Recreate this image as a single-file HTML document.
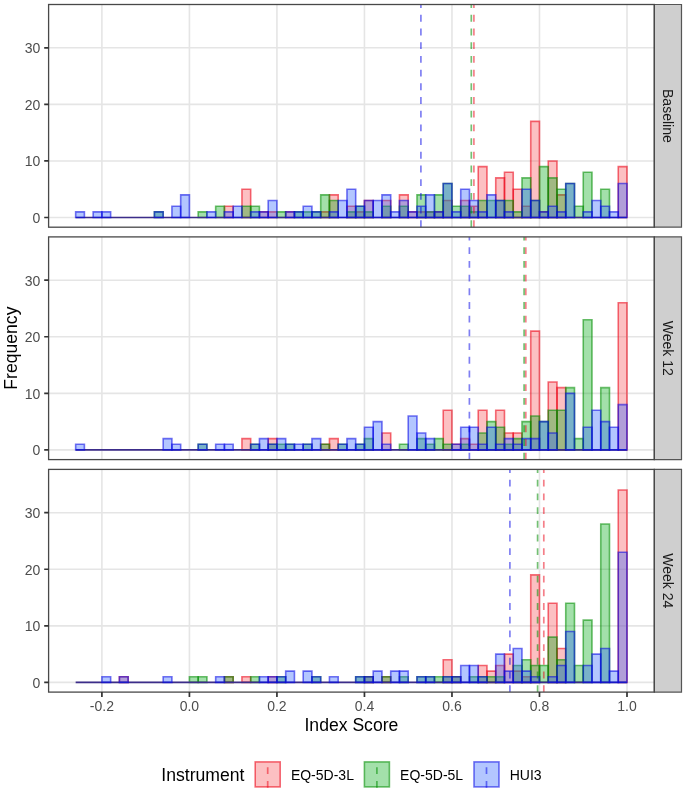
<!DOCTYPE html>
<html><head><meta charset="utf-8"><style>
html,body{margin:0;padding:0;background:#fff;}
body{width:685px;height:792px;position:relative;overflow:hidden;font-family:"Liberation Sans",sans-serif;}
svg text{font-family:"Liberation Sans",sans-serif;}
svg{will-change:transform;}
</style></head><body>
<svg width="685" height="792" viewBox="0 0 685 792" style="position:absolute;left:0;top:0"><rect x="0" y="0" width="685" height="792" fill="#fff"/><path d="M101.90 4.50V227.20M189.42 4.50V227.20M276.93 4.50V227.20M364.45 4.50V227.20M451.97 4.50V227.20M539.48 4.50V227.20M627.00 4.50V227.20M48.60 217.50H654.30M48.60 160.93H654.30M48.60 104.36H654.30M48.60 47.79H654.30" stroke="#e5e5e5" stroke-width="1.6" fill="none"/><path d="M224.42 206.19H233.18V217.50H224.42ZM241.93 189.22H250.68V217.50H241.93ZM259.43 211.84H268.18V217.50H259.43ZM268.18 211.84H276.93V217.50H268.18ZM285.69 211.84H294.44V217.50H285.69ZM320.69 211.84H329.44V217.50H320.69ZM329.44 194.87H338.20V217.50H329.44ZM346.95 206.19H355.70V217.50H346.95ZM355.70 211.84H364.45V217.50H355.70ZM364.45 200.53H373.20V217.50H364.45ZM381.95 200.53H390.71V217.50H381.95ZM399.46 194.87H408.21V217.50H399.46ZM408.21 211.84H416.96V217.50H408.21ZM416.96 211.84H425.71V217.50H416.96ZM425.71 211.84H434.46V217.50H425.71ZM434.46 211.84H443.22V217.50H434.46ZM443.22 200.53H451.97V217.50H443.22ZM460.72 200.53H469.47V217.50H460.72ZM469.47 206.19H478.22V217.50H469.47ZM478.22 166.59H486.97V217.50H478.22ZM495.73 177.90H504.48V217.50H495.73ZM504.48 172.24H513.23V217.50H504.48ZM513.23 189.22H521.98V217.50H513.23ZM521.98 206.19H530.73V217.50H521.98ZM530.73 121.33H539.48V217.50H530.73ZM539.48 211.84H548.24V217.50H539.48ZM548.24 160.93H556.99V217.50H548.24ZM556.99 194.87H565.74V217.50H556.99ZM618.25 166.59H627.00V217.50H618.25Z" fill="rgba(248,80,85,0.36)" stroke="none"/><path d="M224.42 206.19H233.18V217.50H224.42Z" fill="none" stroke="rgba(235,0,20,0.57)" stroke-width="1.6"/><path d="M241.93 189.22H250.68V217.50H241.93Z" fill="none" stroke="rgba(235,0,20,0.57)" stroke-width="1.6"/><path d="M259.43 211.84H268.18V217.50H259.43Z" fill="none" stroke="rgba(235,0,20,0.57)" stroke-width="1.6"/><path d="M268.18 211.84H276.93V217.50H268.18Z" fill="none" stroke="rgba(235,0,20,0.57)" stroke-width="1.6"/><path d="M285.69 211.84H294.44V217.50H285.69Z" fill="none" stroke="rgba(235,0,20,0.57)" stroke-width="1.6"/><path d="M320.69 211.84H329.44V217.50H320.69Z" fill="none" stroke="rgba(235,0,20,0.57)" stroke-width="1.6"/><path d="M329.44 194.87H338.20V217.50H329.44Z" fill="none" stroke="rgba(235,0,20,0.57)" stroke-width="1.6"/><path d="M346.95 206.19H355.70V217.50H346.95Z" fill="none" stroke="rgba(235,0,20,0.57)" stroke-width="1.6"/><path d="M355.70 211.84H364.45V217.50H355.70Z" fill="none" stroke="rgba(235,0,20,0.57)" stroke-width="1.6"/><path d="M364.45 200.53H373.20V217.50H364.45Z" fill="none" stroke="rgba(235,0,20,0.57)" stroke-width="1.6"/><path d="M381.95 200.53H390.71V217.50H381.95Z" fill="none" stroke="rgba(235,0,20,0.57)" stroke-width="1.6"/><path d="M399.46 194.87H408.21V217.50H399.46Z" fill="none" stroke="rgba(235,0,20,0.57)" stroke-width="1.6"/><path d="M408.21 211.84H416.96V217.50H408.21Z" fill="none" stroke="rgba(235,0,20,0.57)" stroke-width="1.6"/><path d="M416.96 211.84H425.71V217.50H416.96Z" fill="none" stroke="rgba(235,0,20,0.57)" stroke-width="1.6"/><path d="M425.71 211.84H434.46V217.50H425.71Z" fill="none" stroke="rgba(235,0,20,0.57)" stroke-width="1.6"/><path d="M434.46 211.84H443.22V217.50H434.46Z" fill="none" stroke="rgba(235,0,20,0.57)" stroke-width="1.6"/><path d="M443.22 200.53H451.97V217.50H443.22Z" fill="none" stroke="rgba(235,0,20,0.57)" stroke-width="1.6"/><path d="M460.72 200.53H469.47V217.50H460.72Z" fill="none" stroke="rgba(235,0,20,0.57)" stroke-width="1.6"/><path d="M469.47 206.19H478.22V217.50H469.47Z" fill="none" stroke="rgba(235,0,20,0.57)" stroke-width="1.6"/><path d="M478.22 166.59H486.97V217.50H478.22Z" fill="none" stroke="rgba(235,0,20,0.57)" stroke-width="1.6"/><path d="M495.73 177.90H504.48V217.50H495.73Z" fill="none" stroke="rgba(235,0,20,0.57)" stroke-width="1.6"/><path d="M504.48 172.24H513.23V217.50H504.48Z" fill="none" stroke="rgba(235,0,20,0.57)" stroke-width="1.6"/><path d="M513.23 189.22H521.98V217.50H513.23Z" fill="none" stroke="rgba(235,0,20,0.57)" stroke-width="1.6"/><path d="M521.98 206.19H530.73V217.50H521.98Z" fill="none" stroke="rgba(235,0,20,0.57)" stroke-width="1.6"/><path d="M530.73 121.33H539.48V217.50H530.73Z" fill="none" stroke="rgba(235,0,20,0.57)" stroke-width="1.6"/><path d="M539.48 211.84H548.24V217.50H539.48Z" fill="none" stroke="rgba(235,0,20,0.57)" stroke-width="1.6"/><path d="M548.24 160.93H556.99V217.50H548.24Z" fill="none" stroke="rgba(235,0,20,0.57)" stroke-width="1.6"/><path d="M556.99 194.87H565.74V217.50H556.99Z" fill="none" stroke="rgba(235,0,20,0.57)" stroke-width="1.6"/><path d="M618.25 166.59H627.00V217.50H618.25Z" fill="none" stroke="rgba(235,0,20,0.57)" stroke-width="1.6"/><path d="M154.41 211.84H163.16V217.50H154.41ZM198.17 211.84H206.92V217.50H198.17ZM215.67 206.19H224.42V217.50H215.67ZM241.93 206.19H250.68V217.50H241.93ZM250.68 206.19H259.43V217.50H250.68ZM276.93 211.84H285.69V217.50H276.93ZM294.44 211.84H303.19V217.50H294.44ZM303.19 211.84H311.94V217.50H303.19ZM311.94 211.84H320.69V217.50H311.94ZM320.69 194.87H329.44V217.50H320.69ZM329.44 200.53H338.20V217.50H329.44ZM346.95 211.84H355.70V217.50H346.95ZM355.70 206.19H364.45V217.50H355.70ZM364.45 211.84H373.20V217.50H364.45ZM381.95 206.19H390.71V217.50H381.95ZM399.46 206.19H408.21V217.50H399.46ZM416.96 194.87H425.71V217.50H416.96ZM425.71 211.84H434.46V217.50H425.71ZM434.46 194.87H443.22V217.50H434.46ZM443.22 183.56H451.97V217.50H443.22ZM451.97 206.19H460.72V217.50H451.97ZM460.72 206.19H469.47V217.50H460.72ZM469.47 211.84H478.22V217.50H469.47ZM478.22 200.53H486.97V217.50H478.22ZM486.97 200.53H495.73V217.50H486.97ZM495.73 200.53H504.48V217.50H495.73ZM504.48 200.53H513.23V217.50H504.48ZM513.23 211.84H521.98V217.50H513.23ZM521.98 177.90H530.73V217.50H521.98ZM530.73 200.53H539.48V217.50H530.73ZM539.48 166.59H548.24V217.50H539.48ZM548.24 177.90H556.99V217.50H548.24ZM556.99 189.22H565.74V217.50H556.99ZM565.74 183.56H574.49V217.50H565.74ZM574.49 206.19H583.24V217.50H574.49ZM583.24 172.24H591.99V217.50H583.24ZM600.75 189.22H609.50V217.50H600.75Z" fill="rgba(0,170,20,0.36)" stroke="none"/><path d="M154.41 211.84H163.16V217.50H154.41Z" fill="none" stroke="rgba(0,140,0,0.57)" stroke-width="1.6"/><path d="M198.17 211.84H206.92V217.50H198.17Z" fill="none" stroke="rgba(0,140,0,0.57)" stroke-width="1.6"/><path d="M215.67 206.19H224.42V217.50H215.67Z" fill="none" stroke="rgba(0,140,0,0.57)" stroke-width="1.6"/><path d="M241.93 206.19H250.68V217.50H241.93Z" fill="none" stroke="rgba(0,140,0,0.57)" stroke-width="1.6"/><path d="M250.68 206.19H259.43V217.50H250.68Z" fill="none" stroke="rgba(0,140,0,0.57)" stroke-width="1.6"/><path d="M276.93 211.84H285.69V217.50H276.93Z" fill="none" stroke="rgba(0,140,0,0.57)" stroke-width="1.6"/><path d="M294.44 211.84H303.19V217.50H294.44Z" fill="none" stroke="rgba(0,140,0,0.57)" stroke-width="1.6"/><path d="M303.19 211.84H311.94V217.50H303.19Z" fill="none" stroke="rgba(0,140,0,0.57)" stroke-width="1.6"/><path d="M311.94 211.84H320.69V217.50H311.94Z" fill="none" stroke="rgba(0,140,0,0.57)" stroke-width="1.6"/><path d="M320.69 194.87H329.44V217.50H320.69Z" fill="none" stroke="rgba(0,140,0,0.57)" stroke-width="1.6"/><path d="M329.44 200.53H338.20V217.50H329.44Z" fill="none" stroke="rgba(0,140,0,0.57)" stroke-width="1.6"/><path d="M346.95 211.84H355.70V217.50H346.95Z" fill="none" stroke="rgba(0,140,0,0.57)" stroke-width="1.6"/><path d="M355.70 206.19H364.45V217.50H355.70Z" fill="none" stroke="rgba(0,140,0,0.57)" stroke-width="1.6"/><path d="M364.45 211.84H373.20V217.50H364.45Z" fill="none" stroke="rgba(0,140,0,0.57)" stroke-width="1.6"/><path d="M381.95 206.19H390.71V217.50H381.95Z" fill="none" stroke="rgba(0,140,0,0.57)" stroke-width="1.6"/><path d="M399.46 206.19H408.21V217.50H399.46Z" fill="none" stroke="rgba(0,140,0,0.57)" stroke-width="1.6"/><path d="M416.96 194.87H425.71V217.50H416.96Z" fill="none" stroke="rgba(0,140,0,0.57)" stroke-width="1.6"/><path d="M425.71 211.84H434.46V217.50H425.71Z" fill="none" stroke="rgba(0,140,0,0.57)" stroke-width="1.6"/><path d="M434.46 194.87H443.22V217.50H434.46Z" fill="none" stroke="rgba(0,140,0,0.57)" stroke-width="1.6"/><path d="M443.22 183.56H451.97V217.50H443.22Z" fill="none" stroke="rgba(0,140,0,0.57)" stroke-width="1.6"/><path d="M451.97 206.19H460.72V217.50H451.97Z" fill="none" stroke="rgba(0,140,0,0.57)" stroke-width="1.6"/><path d="M460.72 206.19H469.47V217.50H460.72Z" fill="none" stroke="rgba(0,140,0,0.57)" stroke-width="1.6"/><path d="M469.47 211.84H478.22V217.50H469.47Z" fill="none" stroke="rgba(0,140,0,0.57)" stroke-width="1.6"/><path d="M478.22 200.53H486.97V217.50H478.22Z" fill="none" stroke="rgba(0,140,0,0.57)" stroke-width="1.6"/><path d="M486.97 200.53H495.73V217.50H486.97Z" fill="none" stroke="rgba(0,140,0,0.57)" stroke-width="1.6"/><path d="M495.73 200.53H504.48V217.50H495.73Z" fill="none" stroke="rgba(0,140,0,0.57)" stroke-width="1.6"/><path d="M504.48 200.53H513.23V217.50H504.48Z" fill="none" stroke="rgba(0,140,0,0.57)" stroke-width="1.6"/><path d="M513.23 211.84H521.98V217.50H513.23Z" fill="none" stroke="rgba(0,140,0,0.57)" stroke-width="1.6"/><path d="M521.98 177.90H530.73V217.50H521.98Z" fill="none" stroke="rgba(0,140,0,0.57)" stroke-width="1.6"/><path d="M530.73 200.53H539.48V217.50H530.73Z" fill="none" stroke="rgba(0,140,0,0.57)" stroke-width="1.6"/><path d="M539.48 166.59H548.24V217.50H539.48Z" fill="none" stroke="rgba(0,140,0,0.57)" stroke-width="1.6"/><path d="M548.24 177.90H556.99V217.50H548.24Z" fill="none" stroke="rgba(0,140,0,0.57)" stroke-width="1.6"/><path d="M556.99 189.22H565.74V217.50H556.99Z" fill="none" stroke="rgba(0,140,0,0.57)" stroke-width="1.6"/><path d="M565.74 183.56H574.49V217.50H565.74Z" fill="none" stroke="rgba(0,140,0,0.57)" stroke-width="1.6"/><path d="M574.49 206.19H583.24V217.50H574.49Z" fill="none" stroke="rgba(0,140,0,0.57)" stroke-width="1.6"/><path d="M583.24 172.24H591.99V217.50H583.24Z" fill="none" stroke="rgba(0,140,0,0.57)" stroke-width="1.6"/><path d="M600.75 189.22H609.50V217.50H600.75Z" fill="none" stroke="rgba(0,140,0,0.57)" stroke-width="1.6"/><path d="M75.65 217.50H627.00" stroke="#3c2d8a" stroke-width="1.6"/><path d="M75.65 211.84H84.40V217.50H75.65ZM93.15 211.84H101.90V217.50H93.15ZM101.90 211.84H110.65V217.50H101.90ZM154.41 211.84H163.16V217.50H154.41ZM171.91 206.19H180.67V217.50H171.91ZM180.67 194.87H189.42V217.50H180.67ZM206.92 211.84H215.67V217.50H206.92ZM224.42 211.84H233.18V217.50H224.42ZM233.18 206.19H241.93V217.50H233.18ZM250.68 211.84H259.43V217.50H250.68ZM259.43 211.84H268.18V217.50H259.43ZM268.18 200.53H276.93V217.50H268.18ZM285.69 211.84H294.44V217.50H285.69ZM294.44 211.84H303.19V217.50H294.44ZM303.19 206.19H311.94V217.50H303.19ZM311.94 211.84H320.69V217.50H311.94ZM329.44 211.84H338.20V217.50H329.44ZM338.20 200.53H346.95V217.50H338.20ZM346.95 189.22H355.70V217.50H346.95ZM355.70 206.19H364.45V217.50H355.70ZM364.45 200.53H373.20V217.50H364.45ZM373.20 200.53H381.95V217.50H373.20ZM381.95 194.87H390.71V217.50H381.95ZM390.71 211.84H399.46V217.50H390.71ZM399.46 200.53H408.21V217.50H399.46ZM408.21 211.84H416.96V217.50H408.21ZM416.96 206.19H425.71V217.50H416.96ZM425.71 194.87H434.46V217.50H425.71ZM434.46 211.84H443.22V217.50H434.46ZM443.22 183.56H451.97V217.50H443.22ZM451.97 211.84H460.72V217.50H451.97ZM460.72 189.22H469.47V217.50H460.72ZM469.47 200.53H478.22V217.50H469.47ZM478.22 211.84H486.97V217.50H478.22ZM486.97 194.87H495.73V217.50H486.97ZM495.73 200.53H504.48V217.50H495.73ZM504.48 211.84H513.23V217.50H504.48ZM521.98 189.22H530.73V217.50H521.98ZM530.73 200.53H539.48V217.50H530.73ZM539.48 211.84H548.24V217.50H539.48ZM548.24 206.19H556.99V217.50H548.24ZM556.99 211.84H565.74V217.50H556.99ZM565.74 183.56H574.49V217.50H565.74ZM583.24 211.84H591.99V217.50H583.24ZM591.99 200.53H600.75V217.50H591.99ZM600.75 206.19H609.50V217.50H600.75ZM609.50 211.84H618.25V217.50H609.50ZM618.25 183.56H627.00V217.50H618.25Z" fill="rgba(50,100,255,0.37)" stroke="none"/><path d="M75.65 211.84H84.40V217.50H75.65Z" fill="none" stroke="rgba(0,0,230,0.54)" stroke-width="1.6"/><path d="M93.15 211.84H101.90V217.50H93.15Z" fill="none" stroke="rgba(0,0,230,0.54)" stroke-width="1.6"/><path d="M101.90 211.84H110.65V217.50H101.90Z" fill="none" stroke="rgba(0,0,230,0.54)" stroke-width="1.6"/><path d="M154.41 211.84H163.16V217.50H154.41Z" fill="none" stroke="rgba(0,0,230,0.54)" stroke-width="1.6"/><path d="M171.91 206.19H180.67V217.50H171.91Z" fill="none" stroke="rgba(0,0,230,0.54)" stroke-width="1.6"/><path d="M180.67 194.87H189.42V217.50H180.67Z" fill="none" stroke="rgba(0,0,230,0.54)" stroke-width="1.6"/><path d="M206.92 211.84H215.67V217.50H206.92Z" fill="none" stroke="rgba(0,0,230,0.54)" stroke-width="1.6"/><path d="M224.42 211.84H233.18V217.50H224.42Z" fill="none" stroke="rgba(0,0,230,0.54)" stroke-width="1.6"/><path d="M233.18 206.19H241.93V217.50H233.18Z" fill="none" stroke="rgba(0,0,230,0.54)" stroke-width="1.6"/><path d="M250.68 211.84H259.43V217.50H250.68Z" fill="none" stroke="rgba(0,0,230,0.54)" stroke-width="1.6"/><path d="M259.43 211.84H268.18V217.50H259.43Z" fill="none" stroke="rgba(0,0,230,0.54)" stroke-width="1.6"/><path d="M268.18 200.53H276.93V217.50H268.18Z" fill="none" stroke="rgba(0,0,230,0.54)" stroke-width="1.6"/><path d="M285.69 211.84H294.44V217.50H285.69Z" fill="none" stroke="rgba(0,0,230,0.54)" stroke-width="1.6"/><path d="M294.44 211.84H303.19V217.50H294.44Z" fill="none" stroke="rgba(0,0,230,0.54)" stroke-width="1.6"/><path d="M303.19 206.19H311.94V217.50H303.19Z" fill="none" stroke="rgba(0,0,230,0.54)" stroke-width="1.6"/><path d="M311.94 211.84H320.69V217.50H311.94Z" fill="none" stroke="rgba(0,0,230,0.54)" stroke-width="1.6"/><path d="M329.44 211.84H338.20V217.50H329.44Z" fill="none" stroke="rgba(0,0,230,0.54)" stroke-width="1.6"/><path d="M338.20 200.53H346.95V217.50H338.20Z" fill="none" stroke="rgba(0,0,230,0.54)" stroke-width="1.6"/><path d="M346.95 189.22H355.70V217.50H346.95Z" fill="none" stroke="rgba(0,0,230,0.54)" stroke-width="1.6"/><path d="M355.70 206.19H364.45V217.50H355.70Z" fill="none" stroke="rgba(0,0,230,0.54)" stroke-width="1.6"/><path d="M364.45 200.53H373.20V217.50H364.45Z" fill="none" stroke="rgba(0,0,230,0.54)" stroke-width="1.6"/><path d="M373.20 200.53H381.95V217.50H373.20Z" fill="none" stroke="rgba(0,0,230,0.54)" stroke-width="1.6"/><path d="M381.95 194.87H390.71V217.50H381.95Z" fill="none" stroke="rgba(0,0,230,0.54)" stroke-width="1.6"/><path d="M390.71 211.84H399.46V217.50H390.71Z" fill="none" stroke="rgba(0,0,230,0.54)" stroke-width="1.6"/><path d="M399.46 200.53H408.21V217.50H399.46Z" fill="none" stroke="rgba(0,0,230,0.54)" stroke-width="1.6"/><path d="M408.21 211.84H416.96V217.50H408.21Z" fill="none" stroke="rgba(0,0,230,0.54)" stroke-width="1.6"/><path d="M416.96 206.19H425.71V217.50H416.96Z" fill="none" stroke="rgba(0,0,230,0.54)" stroke-width="1.6"/><path d="M425.71 194.87H434.46V217.50H425.71Z" fill="none" stroke="rgba(0,0,230,0.54)" stroke-width="1.6"/><path d="M434.46 211.84H443.22V217.50H434.46Z" fill="none" stroke="rgba(0,0,230,0.54)" stroke-width="1.6"/><path d="M443.22 183.56H451.97V217.50H443.22Z" fill="none" stroke="rgba(0,0,230,0.54)" stroke-width="1.6"/><path d="M451.97 211.84H460.72V217.50H451.97Z" fill="none" stroke="rgba(0,0,230,0.54)" stroke-width="1.6"/><path d="M460.72 189.22H469.47V217.50H460.72Z" fill="none" stroke="rgba(0,0,230,0.54)" stroke-width="1.6"/><path d="M469.47 200.53H478.22V217.50H469.47Z" fill="none" stroke="rgba(0,0,230,0.54)" stroke-width="1.6"/><path d="M478.22 211.84H486.97V217.50H478.22Z" fill="none" stroke="rgba(0,0,230,0.54)" stroke-width="1.6"/><path d="M486.97 194.87H495.73V217.50H486.97Z" fill="none" stroke="rgba(0,0,230,0.54)" stroke-width="1.6"/><path d="M495.73 200.53H504.48V217.50H495.73Z" fill="none" stroke="rgba(0,0,230,0.54)" stroke-width="1.6"/><path d="M504.48 211.84H513.23V217.50H504.48Z" fill="none" stroke="rgba(0,0,230,0.54)" stroke-width="1.6"/><path d="M521.98 189.22H530.73V217.50H521.98Z" fill="none" stroke="rgba(0,0,230,0.54)" stroke-width="1.6"/><path d="M530.73 200.53H539.48V217.50H530.73Z" fill="none" stroke="rgba(0,0,230,0.54)" stroke-width="1.6"/><path d="M539.48 211.84H548.24V217.50H539.48Z" fill="none" stroke="rgba(0,0,230,0.54)" stroke-width="1.6"/><path d="M548.24 206.19H556.99V217.50H548.24Z" fill="none" stroke="rgba(0,0,230,0.54)" stroke-width="1.6"/><path d="M556.99 211.84H565.74V217.50H556.99Z" fill="none" stroke="rgba(0,0,230,0.54)" stroke-width="1.6"/><path d="M565.74 183.56H574.49V217.50H565.74Z" fill="none" stroke="rgba(0,0,230,0.54)" stroke-width="1.6"/><path d="M583.24 211.84H591.99V217.50H583.24Z" fill="none" stroke="rgba(0,0,230,0.54)" stroke-width="1.6"/><path d="M591.99 200.53H600.75V217.50H591.99Z" fill="none" stroke="rgba(0,0,230,0.54)" stroke-width="1.6"/><path d="M600.75 206.19H609.50V217.50H600.75Z" fill="none" stroke="rgba(0,0,230,0.54)" stroke-width="1.6"/><path d="M609.50 211.84H618.25V217.50H609.50Z" fill="none" stroke="rgba(0,0,230,0.54)" stroke-width="1.6"/><path d="M618.25 183.56H627.00V217.50H618.25Z" fill="none" stroke="rgba(0,0,230,0.54)" stroke-width="1.6"/><line x1="473.90" y1="227.20" x2="473.90" y2="4.50" stroke="rgba(235,0,20,0.5)" stroke-width="1.7" stroke-dasharray="6.85 6.85"/><line x1="471.30" y1="227.20" x2="471.30" y2="4.50" stroke="rgba(0,140,0,0.55)" stroke-width="1.7" stroke-dasharray="6.85 6.85"/><line x1="420.90" y1="227.20" x2="420.90" y2="4.50" stroke="rgba(0,0,230,0.5)" stroke-width="1.7" stroke-dasharray="6.85 6.85"/><rect x="654.3" y="4.5" width="27.20" height="222.7" fill="#cfcfcf" stroke="none"/><path d="M654.3 4.5H681.5V227.2H654.3Z" fill="none" stroke="#555" stroke-width="1.2"/><rect x="48.6" y="4.5" width="605.70" height="222.7" fill="none" stroke="#484848" stroke-width="1.3"/><text x="0" y="0" transform="translate(662.6 115.85) rotate(90)" text-anchor="middle" font-size="14" fill="#1a1a1a">Baseline</text><text x="40.3" y="223.00" text-anchor="end" font-size="14" fill="#4d4d4d">0</text><text x="40.3" y="166.43" text-anchor="end" font-size="14" fill="#4d4d4d">10</text><text x="40.3" y="109.86" text-anchor="end" font-size="14" fill="#4d4d4d">20</text><text x="40.3" y="53.29" text-anchor="end" font-size="14" fill="#4d4d4d">30</text><path d="M44.2 217.50H48.6M44.2 160.93H48.6M44.2 104.36H48.6M44.2 47.79H48.6" stroke="#333" stroke-width="1.7"/><path d="M101.90 236.90V459.60M189.42 236.90V459.60M276.93 236.90V459.60M364.45 236.90V459.60M451.97 236.90V459.60M539.48 236.90V459.60M627.00 236.90V459.60M48.60 449.90H654.30M48.60 393.33H654.30M48.60 336.76H654.30M48.60 280.19H654.30" stroke="#e5e5e5" stroke-width="1.6" fill="none"/><path d="M241.93 438.59H250.68V449.90H241.93ZM268.18 438.59H276.93V449.90H268.18ZM320.69 444.24H329.44V449.90H320.69ZM329.44 438.59H338.20V449.90H329.44ZM381.95 432.93H390.71V449.90H381.95ZM443.22 410.30H451.97V449.90H443.22ZM451.97 444.24H460.72V449.90H451.97ZM460.72 438.59H469.47V449.90H460.72ZM469.47 444.24H478.22V449.90H469.47ZM478.22 410.30H486.97V449.90H478.22ZM495.73 410.30H504.48V449.90H495.73ZM504.48 432.93H513.23V449.90H504.48ZM513.23 432.93H521.98V449.90H513.23ZM530.73 331.10H539.48V449.90H530.73ZM548.24 382.02H556.99V449.90H548.24ZM556.99 387.67H565.74V449.90H556.99ZM618.25 302.82H627.00V449.90H618.25Z" fill="rgba(248,80,85,0.36)" stroke="none"/><path d="M241.93 438.59H250.68V449.90H241.93Z" fill="none" stroke="rgba(235,0,20,0.57)" stroke-width="1.6"/><path d="M268.18 438.59H276.93V449.90H268.18Z" fill="none" stroke="rgba(235,0,20,0.57)" stroke-width="1.6"/><path d="M320.69 444.24H329.44V449.90H320.69Z" fill="none" stroke="rgba(235,0,20,0.57)" stroke-width="1.6"/><path d="M329.44 438.59H338.20V449.90H329.44Z" fill="none" stroke="rgba(235,0,20,0.57)" stroke-width="1.6"/><path d="M381.95 432.93H390.71V449.90H381.95Z" fill="none" stroke="rgba(235,0,20,0.57)" stroke-width="1.6"/><path d="M443.22 410.30H451.97V449.90H443.22Z" fill="none" stroke="rgba(235,0,20,0.57)" stroke-width="1.6"/><path d="M451.97 444.24H460.72V449.90H451.97Z" fill="none" stroke="rgba(235,0,20,0.57)" stroke-width="1.6"/><path d="M460.72 438.59H469.47V449.90H460.72Z" fill="none" stroke="rgba(235,0,20,0.57)" stroke-width="1.6"/><path d="M469.47 444.24H478.22V449.90H469.47Z" fill="none" stroke="rgba(235,0,20,0.57)" stroke-width="1.6"/><path d="M478.22 410.30H486.97V449.90H478.22Z" fill="none" stroke="rgba(235,0,20,0.57)" stroke-width="1.6"/><path d="M495.73 410.30H504.48V449.90H495.73Z" fill="none" stroke="rgba(235,0,20,0.57)" stroke-width="1.6"/><path d="M504.48 432.93H513.23V449.90H504.48Z" fill="none" stroke="rgba(235,0,20,0.57)" stroke-width="1.6"/><path d="M513.23 432.93H521.98V449.90H513.23Z" fill="none" stroke="rgba(235,0,20,0.57)" stroke-width="1.6"/><path d="M530.73 331.10H539.48V449.90H530.73Z" fill="none" stroke="rgba(235,0,20,0.57)" stroke-width="1.6"/><path d="M548.24 382.02H556.99V449.90H548.24Z" fill="none" stroke="rgba(235,0,20,0.57)" stroke-width="1.6"/><path d="M556.99 387.67H565.74V449.90H556.99Z" fill="none" stroke="rgba(235,0,20,0.57)" stroke-width="1.6"/><path d="M618.25 302.82H627.00V449.90H618.25Z" fill="none" stroke="rgba(235,0,20,0.57)" stroke-width="1.6"/><path d="M198.17 444.24H206.92V449.90H198.17ZM250.68 444.24H259.43V449.90H250.68ZM268.18 444.24H276.93V449.90H268.18ZM276.93 444.24H285.69V449.90H276.93ZM285.69 444.24H294.44V449.90H285.69ZM303.19 444.24H311.94V449.90H303.19ZM320.69 444.24H329.44V449.90H320.69ZM338.20 444.24H346.95V449.90H338.20ZM355.70 444.24H364.45V449.90H355.70ZM364.45 438.59H373.20V449.90H364.45ZM399.46 444.24H408.21V449.90H399.46ZM416.96 438.59H425.71V449.90H416.96ZM425.71 444.24H434.46V449.90H425.71ZM434.46 438.59H443.22V449.90H434.46ZM443.22 444.24H451.97V449.90H443.22ZM460.72 444.24H469.47V449.90H460.72ZM478.22 432.93H486.97V449.90H478.22ZM486.97 421.61H495.73V449.90H486.97ZM495.73 427.27H504.48V449.90H495.73ZM504.48 444.24H513.23V449.90H504.48ZM513.23 438.59H521.98V449.90H513.23ZM521.98 421.61H530.73V449.90H521.98ZM530.73 415.96H539.48V449.90H530.73ZM539.48 421.61H548.24V449.90H539.48ZM548.24 410.30H556.99V449.90H548.24ZM556.99 410.30H565.74V449.90H556.99ZM565.74 387.67H574.49V449.90H565.74ZM574.49 438.59H583.24V449.90H574.49ZM583.24 319.79H591.99V449.90H583.24ZM600.75 387.67H609.50V449.90H600.75Z" fill="rgba(0,170,20,0.36)" stroke="none"/><path d="M198.17 444.24H206.92V449.90H198.17Z" fill="none" stroke="rgba(0,140,0,0.57)" stroke-width="1.6"/><path d="M250.68 444.24H259.43V449.90H250.68Z" fill="none" stroke="rgba(0,140,0,0.57)" stroke-width="1.6"/><path d="M268.18 444.24H276.93V449.90H268.18Z" fill="none" stroke="rgba(0,140,0,0.57)" stroke-width="1.6"/><path d="M276.93 444.24H285.69V449.90H276.93Z" fill="none" stroke="rgba(0,140,0,0.57)" stroke-width="1.6"/><path d="M285.69 444.24H294.44V449.90H285.69Z" fill="none" stroke="rgba(0,140,0,0.57)" stroke-width="1.6"/><path d="M303.19 444.24H311.94V449.90H303.19Z" fill="none" stroke="rgba(0,140,0,0.57)" stroke-width="1.6"/><path d="M320.69 444.24H329.44V449.90H320.69Z" fill="none" stroke="rgba(0,140,0,0.57)" stroke-width="1.6"/><path d="M338.20 444.24H346.95V449.90H338.20Z" fill="none" stroke="rgba(0,140,0,0.57)" stroke-width="1.6"/><path d="M355.70 444.24H364.45V449.90H355.70Z" fill="none" stroke="rgba(0,140,0,0.57)" stroke-width="1.6"/><path d="M364.45 438.59H373.20V449.90H364.45Z" fill="none" stroke="rgba(0,140,0,0.57)" stroke-width="1.6"/><path d="M399.46 444.24H408.21V449.90H399.46Z" fill="none" stroke="rgba(0,140,0,0.57)" stroke-width="1.6"/><path d="M416.96 438.59H425.71V449.90H416.96Z" fill="none" stroke="rgba(0,140,0,0.57)" stroke-width="1.6"/><path d="M425.71 444.24H434.46V449.90H425.71Z" fill="none" stroke="rgba(0,140,0,0.57)" stroke-width="1.6"/><path d="M434.46 438.59H443.22V449.90H434.46Z" fill="none" stroke="rgba(0,140,0,0.57)" stroke-width="1.6"/><path d="M443.22 444.24H451.97V449.90H443.22Z" fill="none" stroke="rgba(0,140,0,0.57)" stroke-width="1.6"/><path d="M460.72 444.24H469.47V449.90H460.72Z" fill="none" stroke="rgba(0,140,0,0.57)" stroke-width="1.6"/><path d="M478.22 432.93H486.97V449.90H478.22Z" fill="none" stroke="rgba(0,140,0,0.57)" stroke-width="1.6"/><path d="M486.97 421.61H495.73V449.90H486.97Z" fill="none" stroke="rgba(0,140,0,0.57)" stroke-width="1.6"/><path d="M495.73 427.27H504.48V449.90H495.73Z" fill="none" stroke="rgba(0,140,0,0.57)" stroke-width="1.6"/><path d="M504.48 444.24H513.23V449.90H504.48Z" fill="none" stroke="rgba(0,140,0,0.57)" stroke-width="1.6"/><path d="M513.23 438.59H521.98V449.90H513.23Z" fill="none" stroke="rgba(0,140,0,0.57)" stroke-width="1.6"/><path d="M521.98 421.61H530.73V449.90H521.98Z" fill="none" stroke="rgba(0,140,0,0.57)" stroke-width="1.6"/><path d="M530.73 415.96H539.48V449.90H530.73Z" fill="none" stroke="rgba(0,140,0,0.57)" stroke-width="1.6"/><path d="M539.48 421.61H548.24V449.90H539.48Z" fill="none" stroke="rgba(0,140,0,0.57)" stroke-width="1.6"/><path d="M548.24 410.30H556.99V449.90H548.24Z" fill="none" stroke="rgba(0,140,0,0.57)" stroke-width="1.6"/><path d="M556.99 410.30H565.74V449.90H556.99Z" fill="none" stroke="rgba(0,140,0,0.57)" stroke-width="1.6"/><path d="M565.74 387.67H574.49V449.90H565.74Z" fill="none" stroke="rgba(0,140,0,0.57)" stroke-width="1.6"/><path d="M574.49 438.59H583.24V449.90H574.49Z" fill="none" stroke="rgba(0,140,0,0.57)" stroke-width="1.6"/><path d="M583.24 319.79H591.99V449.90H583.24Z" fill="none" stroke="rgba(0,140,0,0.57)" stroke-width="1.6"/><path d="M600.75 387.67H609.50V449.90H600.75Z" fill="none" stroke="rgba(0,140,0,0.57)" stroke-width="1.6"/><path d="M75.65 449.90H627.00" stroke="#3c2d8a" stroke-width="1.6"/><path d="M75.65 444.24H84.40V449.90H75.65ZM163.16 438.59H171.91V449.90H163.16ZM171.91 444.24H180.67V449.90H171.91ZM198.17 444.24H206.92V449.90H198.17ZM215.67 444.24H224.42V449.90H215.67ZM224.42 444.24H233.18V449.90H224.42ZM250.68 444.24H259.43V449.90H250.68ZM259.43 438.59H268.18V449.90H259.43ZM268.18 444.24H276.93V449.90H268.18ZM276.93 438.59H285.69V449.90H276.93ZM285.69 444.24H294.44V449.90H285.69ZM294.44 444.24H303.19V449.90H294.44ZM303.19 444.24H311.94V449.90H303.19ZM311.94 438.59H320.69V449.90H311.94ZM338.20 444.24H346.95V449.90H338.20ZM346.95 438.59H355.70V449.90H346.95ZM355.70 444.24H364.45V449.90H355.70ZM364.45 427.27H373.20V449.90H364.45ZM373.20 421.61H381.95V449.90H373.20ZM381.95 444.24H390.71V449.90H381.95ZM408.21 415.96H416.96V449.90H408.21ZM416.96 432.93H425.71V449.90H416.96ZM425.71 438.59H434.46V449.90H425.71ZM451.97 444.24H460.72V449.90H451.97ZM460.72 427.27H469.47V449.90H460.72ZM469.47 427.27H478.22V449.90H469.47ZM478.22 444.24H486.97V449.90H478.22ZM486.97 427.27H495.73V449.90H486.97ZM495.73 444.24H504.48V449.90H495.73ZM504.48 438.59H513.23V449.90H504.48ZM513.23 444.24H521.98V449.90H513.23ZM521.98 438.59H530.73V449.90H521.98ZM530.73 438.59H539.48V449.90H530.73ZM539.48 421.61H548.24V449.90H539.48ZM548.24 432.93H556.99V449.90H548.24ZM565.74 393.33H574.49V449.90H565.74ZM583.24 427.27H591.99V449.90H583.24ZM591.99 410.30H600.75V449.90H591.99ZM600.75 421.61H609.50V449.90H600.75ZM609.50 427.27H618.25V449.90H609.50ZM618.25 404.64H627.00V449.90H618.25Z" fill="rgba(50,100,255,0.37)" stroke="none"/><path d="M75.65 444.24H84.40V449.90H75.65Z" fill="none" stroke="rgba(0,0,230,0.54)" stroke-width="1.6"/><path d="M163.16 438.59H171.91V449.90H163.16Z" fill="none" stroke="rgba(0,0,230,0.54)" stroke-width="1.6"/><path d="M171.91 444.24H180.67V449.90H171.91Z" fill="none" stroke="rgba(0,0,230,0.54)" stroke-width="1.6"/><path d="M198.17 444.24H206.92V449.90H198.17Z" fill="none" stroke="rgba(0,0,230,0.54)" stroke-width="1.6"/><path d="M215.67 444.24H224.42V449.90H215.67Z" fill="none" stroke="rgba(0,0,230,0.54)" stroke-width="1.6"/><path d="M224.42 444.24H233.18V449.90H224.42Z" fill="none" stroke="rgba(0,0,230,0.54)" stroke-width="1.6"/><path d="M250.68 444.24H259.43V449.90H250.68Z" fill="none" stroke="rgba(0,0,230,0.54)" stroke-width="1.6"/><path d="M259.43 438.59H268.18V449.90H259.43Z" fill="none" stroke="rgba(0,0,230,0.54)" stroke-width="1.6"/><path d="M268.18 444.24H276.93V449.90H268.18Z" fill="none" stroke="rgba(0,0,230,0.54)" stroke-width="1.6"/><path d="M276.93 438.59H285.69V449.90H276.93Z" fill="none" stroke="rgba(0,0,230,0.54)" stroke-width="1.6"/><path d="M285.69 444.24H294.44V449.90H285.69Z" fill="none" stroke="rgba(0,0,230,0.54)" stroke-width="1.6"/><path d="M294.44 444.24H303.19V449.90H294.44Z" fill="none" stroke="rgba(0,0,230,0.54)" stroke-width="1.6"/><path d="M303.19 444.24H311.94V449.90H303.19Z" fill="none" stroke="rgba(0,0,230,0.54)" stroke-width="1.6"/><path d="M311.94 438.59H320.69V449.90H311.94Z" fill="none" stroke="rgba(0,0,230,0.54)" stroke-width="1.6"/><path d="M338.20 444.24H346.95V449.90H338.20Z" fill="none" stroke="rgba(0,0,230,0.54)" stroke-width="1.6"/><path d="M346.95 438.59H355.70V449.90H346.95Z" fill="none" stroke="rgba(0,0,230,0.54)" stroke-width="1.6"/><path d="M355.70 444.24H364.45V449.90H355.70Z" fill="none" stroke="rgba(0,0,230,0.54)" stroke-width="1.6"/><path d="M364.45 427.27H373.20V449.90H364.45Z" fill="none" stroke="rgba(0,0,230,0.54)" stroke-width="1.6"/><path d="M373.20 421.61H381.95V449.90H373.20Z" fill="none" stroke="rgba(0,0,230,0.54)" stroke-width="1.6"/><path d="M381.95 444.24H390.71V449.90H381.95Z" fill="none" stroke="rgba(0,0,230,0.54)" stroke-width="1.6"/><path d="M408.21 415.96H416.96V449.90H408.21Z" fill="none" stroke="rgba(0,0,230,0.54)" stroke-width="1.6"/><path d="M416.96 432.93H425.71V449.90H416.96Z" fill="none" stroke="rgba(0,0,230,0.54)" stroke-width="1.6"/><path d="M425.71 438.59H434.46V449.90H425.71Z" fill="none" stroke="rgba(0,0,230,0.54)" stroke-width="1.6"/><path d="M451.97 444.24H460.72V449.90H451.97Z" fill="none" stroke="rgba(0,0,230,0.54)" stroke-width="1.6"/><path d="M460.72 427.27H469.47V449.90H460.72Z" fill="none" stroke="rgba(0,0,230,0.54)" stroke-width="1.6"/><path d="M469.47 427.27H478.22V449.90H469.47Z" fill="none" stroke="rgba(0,0,230,0.54)" stroke-width="1.6"/><path d="M478.22 444.24H486.97V449.90H478.22Z" fill="none" stroke="rgba(0,0,230,0.54)" stroke-width="1.6"/><path d="M486.97 427.27H495.73V449.90H486.97Z" fill="none" stroke="rgba(0,0,230,0.54)" stroke-width="1.6"/><path d="M495.73 444.24H504.48V449.90H495.73Z" fill="none" stroke="rgba(0,0,230,0.54)" stroke-width="1.6"/><path d="M504.48 438.59H513.23V449.90H504.48Z" fill="none" stroke="rgba(0,0,230,0.54)" stroke-width="1.6"/><path d="M513.23 444.24H521.98V449.90H513.23Z" fill="none" stroke="rgba(0,0,230,0.54)" stroke-width="1.6"/><path d="M521.98 438.59H530.73V449.90H521.98Z" fill="none" stroke="rgba(0,0,230,0.54)" stroke-width="1.6"/><path d="M530.73 438.59H539.48V449.90H530.73Z" fill="none" stroke="rgba(0,0,230,0.54)" stroke-width="1.6"/><path d="M539.48 421.61H548.24V449.90H539.48Z" fill="none" stroke="rgba(0,0,230,0.54)" stroke-width="1.6"/><path d="M548.24 432.93H556.99V449.90H548.24Z" fill="none" stroke="rgba(0,0,230,0.54)" stroke-width="1.6"/><path d="M565.74 393.33H574.49V449.90H565.74Z" fill="none" stroke="rgba(0,0,230,0.54)" stroke-width="1.6"/><path d="M583.24 427.27H591.99V449.90H583.24Z" fill="none" stroke="rgba(0,0,230,0.54)" stroke-width="1.6"/><path d="M591.99 410.30H600.75V449.90H591.99Z" fill="none" stroke="rgba(0,0,230,0.54)" stroke-width="1.6"/><path d="M600.75 421.61H609.50V449.90H600.75Z" fill="none" stroke="rgba(0,0,230,0.54)" stroke-width="1.6"/><path d="M609.50 427.27H618.25V449.90H609.50Z" fill="none" stroke="rgba(0,0,230,0.54)" stroke-width="1.6"/><path d="M618.25 404.64H627.00V449.90H618.25Z" fill="none" stroke="rgba(0,0,230,0.54)" stroke-width="1.6"/><line x1="525.80" y1="459.60" x2="525.80" y2="236.90" stroke="rgba(235,0,20,0.5)" stroke-width="1.7" stroke-dasharray="6.85 6.85"/><line x1="524.10" y1="459.60" x2="524.10" y2="236.90" stroke="rgba(0,140,0,0.55)" stroke-width="1.7" stroke-dasharray="6.85 6.85"/><line x1="469.40" y1="459.60" x2="469.40" y2="236.90" stroke="rgba(0,0,230,0.5)" stroke-width="1.7" stroke-dasharray="6.85 6.85"/><rect x="654.3" y="236.9" width="27.20" height="222.7" fill="#cfcfcf" stroke="none"/><path d="M654.3 236.9H681.5V459.6H654.3Z" fill="none" stroke="#555" stroke-width="1.2"/><rect x="48.6" y="236.9" width="605.70" height="222.7" fill="none" stroke="#484848" stroke-width="1.3"/><text x="0" y="0" transform="translate(662.6 348.25) rotate(90)" text-anchor="middle" font-size="14" fill="#1a1a1a">Week 12</text><text x="40.3" y="455.40" text-anchor="end" font-size="14" fill="#4d4d4d">0</text><text x="40.3" y="398.83" text-anchor="end" font-size="14" fill="#4d4d4d">10</text><text x="40.3" y="342.26" text-anchor="end" font-size="14" fill="#4d4d4d">20</text><text x="40.3" y="285.69" text-anchor="end" font-size="14" fill="#4d4d4d">30</text><path d="M44.2 449.90H48.6M44.2 393.33H48.6M44.2 336.76H48.6M44.2 280.19H48.6" stroke="#333" stroke-width="1.7"/><path d="M101.90 469.40V692.10M189.42 469.40V692.10M276.93 469.40V692.10M364.45 469.40V692.10M451.97 469.40V692.10M539.48 469.40V692.10M627.00 469.40V692.10M48.60 682.40H654.30M48.60 625.83H654.30M48.60 569.26H654.30M48.60 512.69H654.30" stroke="#e5e5e5" stroke-width="1.6" fill="none"/><path d="M119.40 676.74H128.16V682.40H119.40ZM224.42 676.74H233.18V682.40H224.42ZM241.93 676.74H250.68V682.40H241.93ZM268.18 676.74H276.93V682.40H268.18ZM364.45 676.74H373.20V682.40H364.45ZM381.95 676.74H390.71V682.40H381.95ZM443.22 659.77H451.97V682.40H443.22ZM451.97 676.74H460.72V682.40H451.97ZM478.22 665.43H486.97V682.40H478.22ZM486.97 671.09H495.73V682.40H486.97ZM495.73 665.43H504.48V682.40H495.73ZM504.48 654.12H513.23V682.40H504.48ZM513.23 671.09H521.98V682.40H513.23ZM521.98 676.74H530.73V682.40H521.98ZM530.73 574.92H539.48V682.40H530.73ZM548.24 603.20H556.99V682.40H548.24ZM556.99 648.46H565.74V682.40H556.99ZM618.25 490.06H627.00V682.40H618.25Z" fill="rgba(248,80,85,0.36)" stroke="none"/><path d="M119.40 676.74H128.16V682.40H119.40Z" fill="none" stroke="rgba(235,0,20,0.57)" stroke-width="1.6"/><path d="M224.42 676.74H233.18V682.40H224.42Z" fill="none" stroke="rgba(235,0,20,0.57)" stroke-width="1.6"/><path d="M241.93 676.74H250.68V682.40H241.93Z" fill="none" stroke="rgba(235,0,20,0.57)" stroke-width="1.6"/><path d="M268.18 676.74H276.93V682.40H268.18Z" fill="none" stroke="rgba(235,0,20,0.57)" stroke-width="1.6"/><path d="M364.45 676.74H373.20V682.40H364.45Z" fill="none" stroke="rgba(235,0,20,0.57)" stroke-width="1.6"/><path d="M381.95 676.74H390.71V682.40H381.95Z" fill="none" stroke="rgba(235,0,20,0.57)" stroke-width="1.6"/><path d="M443.22 659.77H451.97V682.40H443.22Z" fill="none" stroke="rgba(235,0,20,0.57)" stroke-width="1.6"/><path d="M451.97 676.74H460.72V682.40H451.97Z" fill="none" stroke="rgba(235,0,20,0.57)" stroke-width="1.6"/><path d="M478.22 665.43H486.97V682.40H478.22Z" fill="none" stroke="rgba(235,0,20,0.57)" stroke-width="1.6"/><path d="M486.97 671.09H495.73V682.40H486.97Z" fill="none" stroke="rgba(235,0,20,0.57)" stroke-width="1.6"/><path d="M495.73 665.43H504.48V682.40H495.73Z" fill="none" stroke="rgba(235,0,20,0.57)" stroke-width="1.6"/><path d="M504.48 654.12H513.23V682.40H504.48Z" fill="none" stroke="rgba(235,0,20,0.57)" stroke-width="1.6"/><path d="M513.23 671.09H521.98V682.40H513.23Z" fill="none" stroke="rgba(235,0,20,0.57)" stroke-width="1.6"/><path d="M521.98 676.74H530.73V682.40H521.98Z" fill="none" stroke="rgba(235,0,20,0.57)" stroke-width="1.6"/><path d="M530.73 574.92H539.48V682.40H530.73Z" fill="none" stroke="rgba(235,0,20,0.57)" stroke-width="1.6"/><path d="M548.24 603.20H556.99V682.40H548.24Z" fill="none" stroke="rgba(235,0,20,0.57)" stroke-width="1.6"/><path d="M556.99 648.46H565.74V682.40H556.99Z" fill="none" stroke="rgba(235,0,20,0.57)" stroke-width="1.6"/><path d="M618.25 490.06H627.00V682.40H618.25Z" fill="none" stroke="rgba(235,0,20,0.57)" stroke-width="1.6"/><path d="M189.42 676.74H198.17V682.40H189.42ZM198.17 676.74H206.92V682.40H198.17ZM224.42 676.74H233.18V682.40H224.42ZM250.68 676.74H259.43V682.40H250.68ZM276.93 676.74H285.69V682.40H276.93ZM311.94 676.74H320.69V682.40H311.94ZM355.70 676.74H364.45V682.40H355.70ZM364.45 676.74H373.20V682.40H364.45ZM381.95 676.74H390.71V682.40H381.95ZM399.46 676.74H408.21V682.40H399.46ZM416.96 676.74H425.71V682.40H416.96ZM425.71 676.74H434.46V682.40H425.71ZM434.46 676.74H443.22V682.40H434.46ZM443.22 676.74H451.97V682.40H443.22ZM451.97 676.74H460.72V682.40H451.97ZM469.47 676.74H478.22V682.40H469.47ZM478.22 676.74H486.97V682.40H478.22ZM486.97 676.74H495.73V682.40H486.97ZM495.73 676.74H504.48V682.40H495.73ZM513.23 665.43H521.98V682.40H513.23ZM521.98 659.77H530.73V682.40H521.98ZM530.73 665.43H539.48V682.40H530.73ZM539.48 665.43H548.24V682.40H539.48ZM548.24 637.14H556.99V682.40H548.24ZM556.99 659.77H565.74V682.40H556.99ZM565.74 603.20H574.49V682.40H565.74ZM574.49 665.43H583.24V682.40H574.49ZM583.24 620.17H591.99V682.40H583.24ZM600.75 524.00H609.50V682.40H600.75Z" fill="rgba(0,170,20,0.36)" stroke="none"/><path d="M189.42 676.74H198.17V682.40H189.42Z" fill="none" stroke="rgba(0,140,0,0.57)" stroke-width="1.6"/><path d="M198.17 676.74H206.92V682.40H198.17Z" fill="none" stroke="rgba(0,140,0,0.57)" stroke-width="1.6"/><path d="M224.42 676.74H233.18V682.40H224.42Z" fill="none" stroke="rgba(0,140,0,0.57)" stroke-width="1.6"/><path d="M250.68 676.74H259.43V682.40H250.68Z" fill="none" stroke="rgba(0,140,0,0.57)" stroke-width="1.6"/><path d="M276.93 676.74H285.69V682.40H276.93Z" fill="none" stroke="rgba(0,140,0,0.57)" stroke-width="1.6"/><path d="M311.94 676.74H320.69V682.40H311.94Z" fill="none" stroke="rgba(0,140,0,0.57)" stroke-width="1.6"/><path d="M355.70 676.74H364.45V682.40H355.70Z" fill="none" stroke="rgba(0,140,0,0.57)" stroke-width="1.6"/><path d="M364.45 676.74H373.20V682.40H364.45Z" fill="none" stroke="rgba(0,140,0,0.57)" stroke-width="1.6"/><path d="M381.95 676.74H390.71V682.40H381.95Z" fill="none" stroke="rgba(0,140,0,0.57)" stroke-width="1.6"/><path d="M399.46 676.74H408.21V682.40H399.46Z" fill="none" stroke="rgba(0,140,0,0.57)" stroke-width="1.6"/><path d="M416.96 676.74H425.71V682.40H416.96Z" fill="none" stroke="rgba(0,140,0,0.57)" stroke-width="1.6"/><path d="M425.71 676.74H434.46V682.40H425.71Z" fill="none" stroke="rgba(0,140,0,0.57)" stroke-width="1.6"/><path d="M434.46 676.74H443.22V682.40H434.46Z" fill="none" stroke="rgba(0,140,0,0.57)" stroke-width="1.6"/><path d="M443.22 676.74H451.97V682.40H443.22Z" fill="none" stroke="rgba(0,140,0,0.57)" stroke-width="1.6"/><path d="M451.97 676.74H460.72V682.40H451.97Z" fill="none" stroke="rgba(0,140,0,0.57)" stroke-width="1.6"/><path d="M469.47 676.74H478.22V682.40H469.47Z" fill="none" stroke="rgba(0,140,0,0.57)" stroke-width="1.6"/><path d="M478.22 676.74H486.97V682.40H478.22Z" fill="none" stroke="rgba(0,140,0,0.57)" stroke-width="1.6"/><path d="M486.97 676.74H495.73V682.40H486.97Z" fill="none" stroke="rgba(0,140,0,0.57)" stroke-width="1.6"/><path d="M495.73 676.74H504.48V682.40H495.73Z" fill="none" stroke="rgba(0,140,0,0.57)" stroke-width="1.6"/><path d="M513.23 665.43H521.98V682.40H513.23Z" fill="none" stroke="rgba(0,140,0,0.57)" stroke-width="1.6"/><path d="M521.98 659.77H530.73V682.40H521.98Z" fill="none" stroke="rgba(0,140,0,0.57)" stroke-width="1.6"/><path d="M530.73 665.43H539.48V682.40H530.73Z" fill="none" stroke="rgba(0,140,0,0.57)" stroke-width="1.6"/><path d="M539.48 665.43H548.24V682.40H539.48Z" fill="none" stroke="rgba(0,140,0,0.57)" stroke-width="1.6"/><path d="M548.24 637.14H556.99V682.40H548.24Z" fill="none" stroke="rgba(0,140,0,0.57)" stroke-width="1.6"/><path d="M556.99 659.77H565.74V682.40H556.99Z" fill="none" stroke="rgba(0,140,0,0.57)" stroke-width="1.6"/><path d="M565.74 603.20H574.49V682.40H565.74Z" fill="none" stroke="rgba(0,140,0,0.57)" stroke-width="1.6"/><path d="M574.49 665.43H583.24V682.40H574.49Z" fill="none" stroke="rgba(0,140,0,0.57)" stroke-width="1.6"/><path d="M583.24 620.17H591.99V682.40H583.24Z" fill="none" stroke="rgba(0,140,0,0.57)" stroke-width="1.6"/><path d="M600.75 524.00H609.50V682.40H600.75Z" fill="none" stroke="rgba(0,140,0,0.57)" stroke-width="1.6"/><path d="M75.65 682.40H627.00" stroke="#3c2d8a" stroke-width="1.6"/><path d="M101.90 676.74H110.65V682.40H101.90ZM119.40 676.74H128.16V682.40H119.40ZM163.16 676.74H171.91V682.40H163.16ZM215.67 676.74H224.42V682.40H215.67ZM259.43 676.74H268.18V682.40H259.43ZM268.18 676.74H276.93V682.40H268.18ZM276.93 676.74H285.69V682.40H276.93ZM285.69 671.09H294.44V682.40H285.69ZM303.19 671.09H311.94V682.40H303.19ZM311.94 676.74H320.69V682.40H311.94ZM329.44 676.74H338.20V682.40H329.44ZM355.70 676.74H364.45V682.40H355.70ZM364.45 676.74H373.20V682.40H364.45ZM373.20 671.09H381.95V682.40H373.20ZM390.71 671.09H399.46V682.40H390.71ZM399.46 671.09H408.21V682.40H399.46ZM416.96 676.74H425.71V682.40H416.96ZM425.71 676.74H434.46V682.40H425.71ZM443.22 676.74H451.97V682.40H443.22ZM451.97 676.74H460.72V682.40H451.97ZM460.72 665.43H469.47V682.40H460.72ZM469.47 665.43H478.22V682.40H469.47ZM478.22 676.74H486.97V682.40H478.22ZM495.73 654.12H504.48V682.40H495.73ZM504.48 671.09H513.23V682.40H504.48ZM513.23 648.46H521.98V682.40H513.23ZM521.98 671.09H530.73V682.40H521.98ZM530.73 676.74H539.48V682.40H530.73ZM548.24 676.74H556.99V682.40H548.24ZM556.99 665.43H565.74V682.40H556.99ZM565.74 631.49H574.49V682.40H565.74ZM583.24 665.43H591.99V682.40H583.24ZM591.99 654.12H600.75V682.40H591.99ZM600.75 648.46H609.50V682.40H600.75ZM609.50 671.09H618.25V682.40H609.50ZM618.25 552.29H627.00V682.40H618.25Z" fill="rgba(50,100,255,0.37)" stroke="none"/><path d="M101.90 676.74H110.65V682.40H101.90Z" fill="none" stroke="rgba(0,0,230,0.54)" stroke-width="1.6"/><path d="M119.40 676.74H128.16V682.40H119.40Z" fill="none" stroke="rgba(0,0,230,0.54)" stroke-width="1.6"/><path d="M163.16 676.74H171.91V682.40H163.16Z" fill="none" stroke="rgba(0,0,230,0.54)" stroke-width="1.6"/><path d="M215.67 676.74H224.42V682.40H215.67Z" fill="none" stroke="rgba(0,0,230,0.54)" stroke-width="1.6"/><path d="M259.43 676.74H268.18V682.40H259.43Z" fill="none" stroke="rgba(0,0,230,0.54)" stroke-width="1.6"/><path d="M268.18 676.74H276.93V682.40H268.18Z" fill="none" stroke="rgba(0,0,230,0.54)" stroke-width="1.6"/><path d="M276.93 676.74H285.69V682.40H276.93Z" fill="none" stroke="rgba(0,0,230,0.54)" stroke-width="1.6"/><path d="M285.69 671.09H294.44V682.40H285.69Z" fill="none" stroke="rgba(0,0,230,0.54)" stroke-width="1.6"/><path d="M303.19 671.09H311.94V682.40H303.19Z" fill="none" stroke="rgba(0,0,230,0.54)" stroke-width="1.6"/><path d="M311.94 676.74H320.69V682.40H311.94Z" fill="none" stroke="rgba(0,0,230,0.54)" stroke-width="1.6"/><path d="M329.44 676.74H338.20V682.40H329.44Z" fill="none" stroke="rgba(0,0,230,0.54)" stroke-width="1.6"/><path d="M355.70 676.74H364.45V682.40H355.70Z" fill="none" stroke="rgba(0,0,230,0.54)" stroke-width="1.6"/><path d="M364.45 676.74H373.20V682.40H364.45Z" fill="none" stroke="rgba(0,0,230,0.54)" stroke-width="1.6"/><path d="M373.20 671.09H381.95V682.40H373.20Z" fill="none" stroke="rgba(0,0,230,0.54)" stroke-width="1.6"/><path d="M390.71 671.09H399.46V682.40H390.71Z" fill="none" stroke="rgba(0,0,230,0.54)" stroke-width="1.6"/><path d="M399.46 671.09H408.21V682.40H399.46Z" fill="none" stroke="rgba(0,0,230,0.54)" stroke-width="1.6"/><path d="M416.96 676.74H425.71V682.40H416.96Z" fill="none" stroke="rgba(0,0,230,0.54)" stroke-width="1.6"/><path d="M425.71 676.74H434.46V682.40H425.71Z" fill="none" stroke="rgba(0,0,230,0.54)" stroke-width="1.6"/><path d="M443.22 676.74H451.97V682.40H443.22Z" fill="none" stroke="rgba(0,0,230,0.54)" stroke-width="1.6"/><path d="M451.97 676.74H460.72V682.40H451.97Z" fill="none" stroke="rgba(0,0,230,0.54)" stroke-width="1.6"/><path d="M460.72 665.43H469.47V682.40H460.72Z" fill="none" stroke="rgba(0,0,230,0.54)" stroke-width="1.6"/><path d="M469.47 665.43H478.22V682.40H469.47Z" fill="none" stroke="rgba(0,0,230,0.54)" stroke-width="1.6"/><path d="M478.22 676.74H486.97V682.40H478.22Z" fill="none" stroke="rgba(0,0,230,0.54)" stroke-width="1.6"/><path d="M495.73 654.12H504.48V682.40H495.73Z" fill="none" stroke="rgba(0,0,230,0.54)" stroke-width="1.6"/><path d="M504.48 671.09H513.23V682.40H504.48Z" fill="none" stroke="rgba(0,0,230,0.54)" stroke-width="1.6"/><path d="M513.23 648.46H521.98V682.40H513.23Z" fill="none" stroke="rgba(0,0,230,0.54)" stroke-width="1.6"/><path d="M521.98 671.09H530.73V682.40H521.98Z" fill="none" stroke="rgba(0,0,230,0.54)" stroke-width="1.6"/><path d="M530.73 676.74H539.48V682.40H530.73Z" fill="none" stroke="rgba(0,0,230,0.54)" stroke-width="1.6"/><path d="M548.24 676.74H556.99V682.40H548.24Z" fill="none" stroke="rgba(0,0,230,0.54)" stroke-width="1.6"/><path d="M556.99 665.43H565.74V682.40H556.99Z" fill="none" stroke="rgba(0,0,230,0.54)" stroke-width="1.6"/><path d="M565.74 631.49H574.49V682.40H565.74Z" fill="none" stroke="rgba(0,0,230,0.54)" stroke-width="1.6"/><path d="M583.24 665.43H591.99V682.40H583.24Z" fill="none" stroke="rgba(0,0,230,0.54)" stroke-width="1.6"/><path d="M591.99 654.12H600.75V682.40H591.99Z" fill="none" stroke="rgba(0,0,230,0.54)" stroke-width="1.6"/><path d="M600.75 648.46H609.50V682.40H600.75Z" fill="none" stroke="rgba(0,0,230,0.54)" stroke-width="1.6"/><path d="M609.50 671.09H618.25V682.40H609.50Z" fill="none" stroke="rgba(0,0,230,0.54)" stroke-width="1.6"/><path d="M618.25 552.29H627.00V682.40H618.25Z" fill="none" stroke="rgba(0,0,230,0.54)" stroke-width="1.6"/><line x1="543.80" y1="692.10" x2="543.80" y2="469.40" stroke="rgba(235,0,20,0.5)" stroke-width="1.7" stroke-dasharray="6.85 6.85"/><line x1="537.60" y1="692.10" x2="537.60" y2="469.40" stroke="rgba(0,140,0,0.55)" stroke-width="1.7" stroke-dasharray="6.85 6.85"/><line x1="509.90" y1="692.10" x2="509.90" y2="469.40" stroke="rgba(0,0,230,0.5)" stroke-width="1.7" stroke-dasharray="6.85 6.85"/><rect x="654.3" y="469.4" width="27.20" height="222.7" fill="#cfcfcf" stroke="none"/><path d="M654.3 469.4H681.5V692.0999999999999H654.3Z" fill="none" stroke="#555" stroke-width="1.2"/><rect x="48.6" y="469.4" width="605.70" height="222.7" fill="none" stroke="#484848" stroke-width="1.3"/><text x="0" y="0" transform="translate(662.6 580.75) rotate(90)" text-anchor="middle" font-size="14" fill="#1a1a1a">Week 24</text><text x="40.3" y="687.90" text-anchor="end" font-size="14" fill="#4d4d4d">0</text><text x="40.3" y="631.33" text-anchor="end" font-size="14" fill="#4d4d4d">10</text><text x="40.3" y="574.76" text-anchor="end" font-size="14" fill="#4d4d4d">20</text><text x="40.3" y="518.19" text-anchor="end" font-size="14" fill="#4d4d4d">30</text><path d="M44.2 682.40H48.6M44.2 625.83H48.6M44.2 569.26H48.6M44.2 512.69H48.6" stroke="#333" stroke-width="1.7"/><text x="101.90" y="711.10" text-anchor="middle" font-size="14" fill="#4d4d4d">-0.2</text><text x="189.42" y="711.10" text-anchor="middle" font-size="14" fill="#4d4d4d">0.0</text><text x="276.93" y="711.10" text-anchor="middle" font-size="14" fill="#4d4d4d">0.2</text><text x="364.45" y="711.10" text-anchor="middle" font-size="14" fill="#4d4d4d">0.4</text><text x="451.97" y="711.10" text-anchor="middle" font-size="14" fill="#4d4d4d">0.6</text><text x="539.48" y="711.10" text-anchor="middle" font-size="14" fill="#4d4d4d">0.8</text><text x="627.00" y="711.10" text-anchor="middle" font-size="14" fill="#4d4d4d">1.0</text><path d="M101.90 692.10V697.10M189.42 692.10V697.10M276.93 692.10V697.10M364.45 692.10V697.10M451.97 692.10V697.10M539.48 692.10V697.10M627.00 692.10V697.10" stroke="#333" stroke-width="1.7"/><text x="351.4" y="730.6" text-anchor="middle" font-size="17.6" fill="#000">Index Score</text><text x="0" y="0" transform="translate(16.5 348.1) rotate(-90)" text-anchor="middle" font-size="17.6" fill="#000">Frequency</text><text x="161.3" y="781" font-size="17.6" fill="#000">Instrument</text><rect x="255.20" y="761.9" width="25" height="25" fill="rgba(248,80,85,0.36)" stroke="rgba(235,0,20,0.57)" stroke-width="1.6"/><line x1="267.70" y1="787.8" x2="267.70" y2="761.1" stroke="rgba(235,0,20,0.5)" stroke-width="1.7" stroke-dasharray="6.85 6.85"/><text x="290.90" y="779.8" font-size="14" fill="#000">EQ-5D-3L</text><rect x="364.40" y="761.9" width="25" height="25" fill="rgba(0,170,20,0.36)" stroke="rgba(0,140,0,0.57)" stroke-width="1.6"/><line x1="376.90" y1="787.8" x2="376.90" y2="761.1" stroke="rgba(0,140,0,0.55)" stroke-width="1.7" stroke-dasharray="6.85 6.85"/><text x="400.10" y="779.8" font-size="14" fill="#000">EQ-5D-5L</text><rect x="474.00" y="761.9" width="25" height="25" fill="rgba(50,100,255,0.37)" stroke="rgba(0,0,230,0.54)" stroke-width="1.6"/><line x1="486.50" y1="787.8" x2="486.50" y2="761.1" stroke="rgba(0,0,230,0.5)" stroke-width="1.7" stroke-dasharray="6.85 6.85"/><text x="509.70" y="779.8" font-size="14" fill="#000">HUI3</text></svg>
</body></html>
